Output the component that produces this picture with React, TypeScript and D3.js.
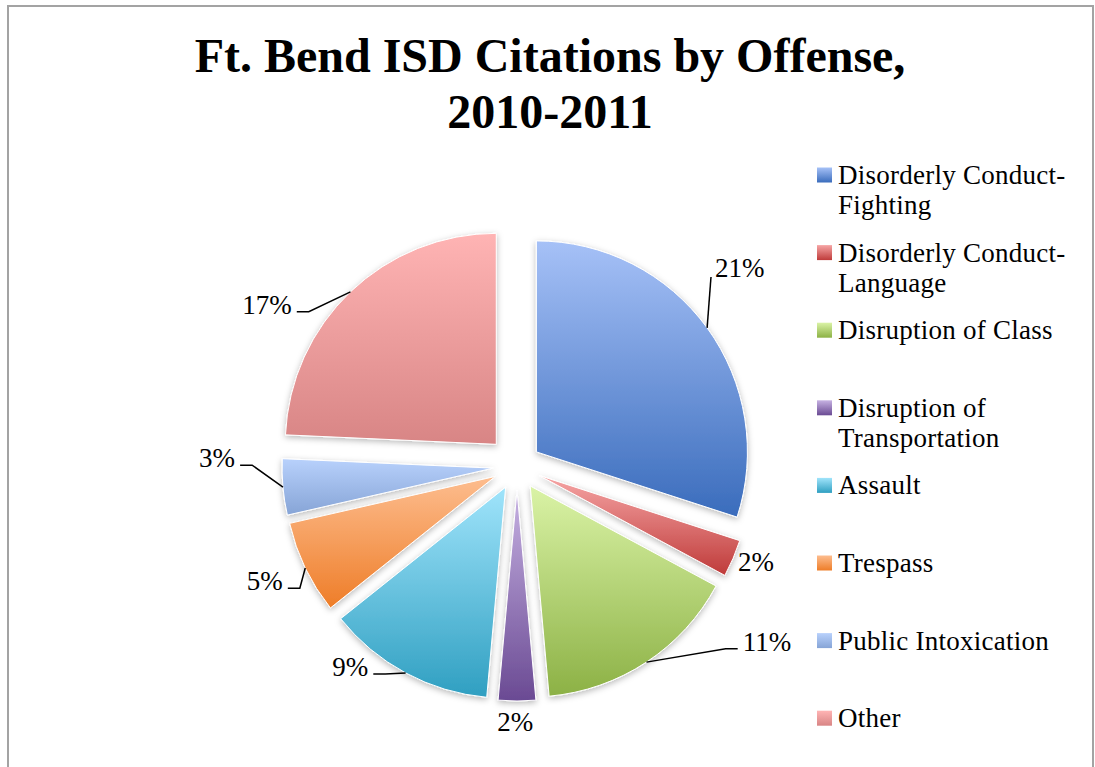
import React from 'react';
import * as d3 from 'd3';

const categories = [
  'Disorderly Conduct-Fighting',
  'Disorderly Conduct-Language',
  'Disruption of Class',
  'Disruption of Transportation',
  'Assault',
  'Trespass',
  'Public Intoxication',
  'Other',
];

// percentages as printed on the slices
const percents = [21, 2, 11, 2, 9, 5, 3, 17];

const legendLines = [
  ['Disorderly Conduct-', 'Fighting'],
  ['Disorderly Conduct-', 'Language'],
  ['Disruption of Class'],
  ['Disruption of', 'Transportation'],
  ['Assault'],
  ['Trespass'],
  ['Public Intoxication'],
  ['Other'],
];

// [top, bottom] of each slice gradient
const sliceColors = [
  ['#a6c1f7', '#3a6cbc'],
  ['#f6a5a5', '#bf3b3a'],
  ['#daf3a6', '#8cb145'],
  ['#c6b1e2', '#6a4a93'],
  ['#a0e4fb', '#2f9fc1'],
  ['#fdbd8f', '#ee7d28'],
  ['#b8d1fc', '#86a4d6'],
  ['#ffb4b4', '#d88585'],
];

const W = 1095;
const H = 767;
const cx = 517;
const cy = 466;
const R = 211;

// label placement (polar from pie centre, degrees clockwise from top) — layout only
const labelPos: { a: number; r: number; anchor: 'start' | 'middle' | 'end'; leader: 'none' | 'elbow' | 'direct' }[] = [
  { a: 45.0, r: 280, anchor: 'start', leader: 'direct' },
  { a: 113.5, r: 241, anchor: 'start', leader: 'none' },
  { a: 127.9, r: 286, anchor: 'start', leader: 'elbow' },
  { a: 180.4, r: 256, anchor: 'middle', leader: 'none' },
  { a: 216.5, r: 250, anchor: 'end', leader: 'elbow' },
  { a: 243.8, r: 261, anchor: 'end', leader: 'elbow' },
  { a: 271.6, r: 282, anchor: 'end', leader: 'elbow' },
  { a: 305.6, r: 277, anchor: 'end', leader: 'elbow' },
];

const explode = (i: number) => (i === 7 ? 30 : 24);

const App: React.FC = () => {
  const pie = d3.pie<number>().sort(null).value(d => d).startAngle(0).endAngle(2 * Math.PI);
  const arcs = pie(percents);
  const arc = d3.arc<d3.PieArcDatum<number>>().innerRadius(0).outerRadius(R);

  const serif = '"Liberation Serif", "DejaVu Serif", serif';

  return (
    <div style={{ position: 'absolute', left: 0, top: 0, width: W, height: H, background: '#fff' }}>
      <svg width={W} height={H} viewBox={`0 0 ${W} ${H}`}>
        <defs>
          {sliceColors.map((c, i) => (
            <linearGradient key={i} id={`g${i}`} x1="0" y1="0" x2="0" y2="1">
              <stop offset="0%" stopColor={c[0]} />
              <stop offset="100%" stopColor={c[1]} />
            </linearGradient>
          ))}
          <filter id="shadow" x="-20%" y="-20%" width="140%" height="140%">
            <feDropShadow dx="0" dy="2" stdDeviation="3" floodColor="#000" floodOpacity="0.28" />
          </filter>
        </defs>

        <rect x={8} y={6} width={1085} height={H + 20} fill="#fff" stroke="#a3a3a3" strokeWidth={2} />

        <text x={550} y={72} textAnchor="middle" fontFamily={serif} fontWeight="bold" fontSize={48} fill="#000">
          Ft. Bend ISD Citations by Offense,
        </text>
        <text x={550} y={128} textAnchor="middle" fontFamily={serif} fontWeight="bold" fontSize={48} fill="#000">
          2010-2011
        </text>

        <g>
          {arcs.map((d, i) => {
            const mid = (d.startAngle + d.endAngle) / 2;
            const ox = Math.sin(mid) * explode(i);
            const oy = -Math.cos(mid) * explode(i);
            return (
              <g key={i} transform={`translate(${cx + ox},${cy + oy})`} filter="url(#shadow)">
                <path d={arc(d) || ''} fill={`url(#g${i})`} stroke="#fff" strokeWidth={1} />
              </g>
            );
          })}
        </g>

        <g fontFamily={serif} fontSize={27} fill="#000">
          {arcs.map((d, i) => {
            const p = labelPos[i];
            const la = (p.a * Math.PI) / 180;
            const lx = cx + Math.sin(la) * p.r;
            const ly = cy - Math.cos(la) * p.r;
            const mid = (d.startAngle + d.endAngle) / 2;
            const ex = cx + Math.sin(mid) * (explode(i) + R);
            const ey = cy - Math.cos(mid) * (explode(i) + R);
            let leader = null;
            if (p.leader === 'elbow') {
              const dir = p.anchor === 'end' ? 1 : -1;
              const yy = ly + 7;
              const x1 = lx + dir * 5;
              const x2 = lx + dir * 17;
              leader = <path d={`M${x1},${yy}L${x2},${yy}L${ex},${ey}`} fill="none" stroke="#000" strokeWidth={1.5} />;
            } else if (p.leader === 'direct') {
              leader = <path d={`M${lx - 4},${ly + 9}L${ex},${ey}`} fill="none" stroke="#000" strokeWidth={1.5} />;
            }
            return (
              <g key={i}>
                {leader}
                <text x={lx} y={ly} textAnchor={p.anchor} dominantBaseline="central">
                  {`${percents[i]}%`}
                </text>
              </g>
            );
          })}
        </g>

        <g fontFamily={serif} fontSize={27} letterSpacing={0.25} fill="#000">
          {categories.map((c, i) => {
            const y0 = 175 + i * 77.6;
            return (
              <g key={c}>
                <rect x={817} y={y0 - 7.5} width={15} height={15} fill={`url(#g${i})`} />
                {legendLines[i].map((line, j) => (
                  <text key={j} x={838} y={y0 + j * 30} dominantBaseline="central">
                    {line}
                  </text>
                ))}
              </g>
            );
          })}
        </g>
      </svg>
    </div>
  );
};

export default App;
